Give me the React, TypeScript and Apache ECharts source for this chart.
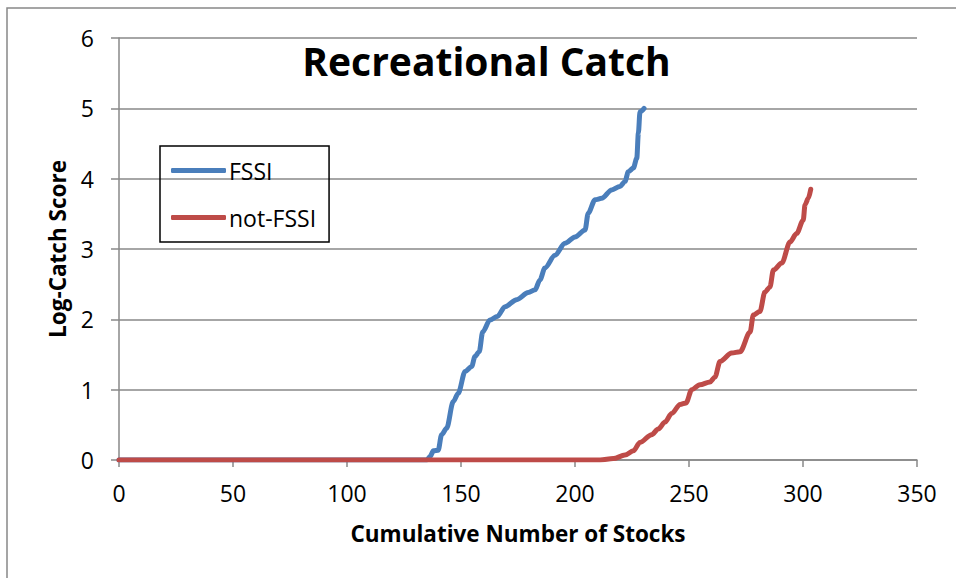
import React, { useEffect, useRef } from "react";
import * as echarts from "echarts";

const titleText = "Recreational Catch";
const xAxisName = "Cumulative Number of Stocks";
const yAxisName = "Log-Catch Score";

const fssiName = "FSSI";
const fssiX = [0, 135, 136.4, 137.9, 140.0, 141.5, 143.7, 146.6, 148.8, 151.8, 154.7, 156.1, 158.0, 159.5, 162.7, 165.9, 169.3, 174.4, 179.5, 182.5, 184.6, 186.8, 191.2, 195.6, 200.0, 204.4, 205.8, 208.8, 211.7, 216.1, 219.7, 221.9, 223.4, 225.6, 227.1, 227.8, 228.5, 230.3];
const fssiY = [0, 0, 0.05, 0.13, 0.14, 0.36, 0.45, 0.83, 0.95, 1.26, 1.33, 1.47, 1.54, 1.82, 1.99, 2.04, 2.18, 2.28, 2.38, 2.42, 2.56, 2.73, 2.91, 3.08, 3.17, 3.27, 3.51, 3.7, 3.72, 3.84, 3.89, 3.96, 4.1, 4.15, 4.29, 4.65, 4.95, 5.0];

const notName = "not-FSSI";
const notX = [0, 211, 216.8, 221.9, 225.6, 228.5, 233.6, 236.5, 239.5, 242.4, 246.1, 248.7, 251.2, 254.8, 259.2, 261.4, 263.6, 268.7, 272.4, 276.8, 278.2, 281.1, 283.3, 285.5, 287.0, 290.7, 294.3, 297.2, 300.1, 300.9, 302.3, 303.4];
const notY = [0, 0, 0.02, 0.07, 0.13, 0.25, 0.36, 0.44, 0.54, 0.66, 0.79, 0.81, 1.0, 1.07, 1.11, 1.18, 1.4, 1.52, 1.54, 1.82, 2.06, 2.11, 2.39, 2.46, 2.7, 2.8, 3.1, 3.22, 3.41, 3.63, 3.72, 3.85];

const FONT = "'Open Sans', sans-serif";
const GRAY = "#888888";
const BLUE = "#4a7ebb";
const RED = "#be4b48";

export default function App() {
  const ref = useRef<HTMLDivElement>(null);
  useEffect(() => {
    if (!ref.current) return;
    const chart = echarts.init(ref.current, null, { renderer: "svg" });
    const pairs = (xs: number[], ys: number[]) => xs.map((x, i) => [x, ys[i]]);
    chart.setOption({
      animation: false,
      backgroundColor: "#ffffff",
      textStyle: { fontFamily: FONT },
      grid: { left: 119, right: 39, top: 38, bottom: 118, containLabel: false },
      legend: {
        orient: "vertical",
        left: 160,
        top: 146,
        padding: [13, 13, 13, 11],
        itemGap: 24,
        itemWidth: 55,
        itemHeight: 5,
        icon: "roundRect",
        borderColor: "#000000",
        borderWidth: 1.5,
        textStyle: { fontFamily: FONT, fontSize: 23, color: "#000", padding: [0, 0, 0, -2] },
        data: [fssiName, notName],
      },
      xAxis: {
        type: "value",
        min: 0,
        max: 350,
        interval: 50,
        name: xAxisName,
        nameLocation: "middle",
        nameGap: 62,
        nameTextStyle: { fontFamily: FONT, fontSize: 22.5, fontWeight: "bold", color: "#000" },
        axisLine: { show: true, lineStyle: { color: GRAY, width: 1.5 } },
        axisTick: { show: true, length: 7, lineStyle: { color: GRAY, width: 1.5 } },
        axisLabel: { fontFamily: FONT, fontSize: 23, color: "#000", margin: 21 },
        splitLine: { show: false },
      },
      yAxis: {
        type: "value",
        min: 0,
        max: 6,
        interval: 1,
        name: yAxisName,
        nameLocation: "middle",
        nameRotate: 90,
        nameGap: 50,
        nameTextStyle: { fontFamily: FONT, fontSize: 22.5, fontWeight: "bold", color: "#000" },
        axisLine: { show: true, lineStyle: { color: GRAY, width: 1.5 } },
        axisTick: { show: true, length: 8, lineStyle: { color: GRAY, width: 1.5 } },
        axisLabel: { fontFamily: FONT, fontSize: 23, color: "#000", margin: 25 },
        splitLine: { show: true, lineStyle: { color: GRAY, width: 1.5 } },
      },
      graphic: [
        {
          type: "rect",
          shape: { x: 7, y: 8, width: 1000, height: 1000 },
          style: { fill: "none", stroke: GRAY, lineWidth: 1.5 },
          silent: true,
        },
        {
          type: "text",
          x: 486.5,
          y: 60,
          style: {
            text: titleText,
            fontFamily: FONT,
            fontSize: 39,
            fontWeight: "bold",
            fill: "#000",
            align: "center",
            verticalAlign: "middle",
          },
        },
      ],
      series: [
        {
          name: fssiName,
          type: "line",
          data: pairs(fssiX, fssiY),
          showSymbol: false,
          symbol: "none",
          smooth: 0.3,
          smoothMonotone: "x",
          lineStyle: { color: BLUE, width: 5, cap: "round", join: "round" },
          itemStyle: { color: BLUE },
          z: 2,
        },
        {
          name: notName,
          type: "line",
          data: pairs(notX, notY),
          showSymbol: false,
          symbol: "none",
          smooth: 0.3,
          smoothMonotone: "x",
          lineStyle: { color: RED, width: 5, cap: "round", join: "round" },
          itemStyle: { color: RED },
          z: 3,
        },
      ],
    });
    return () => chart.dispose();
  }, []);
  return (
    <div
      ref={ref}
      style={{ position: "fixed", left: 0, top: 0, width: 956, height: 578 }}
    />
  );
}
